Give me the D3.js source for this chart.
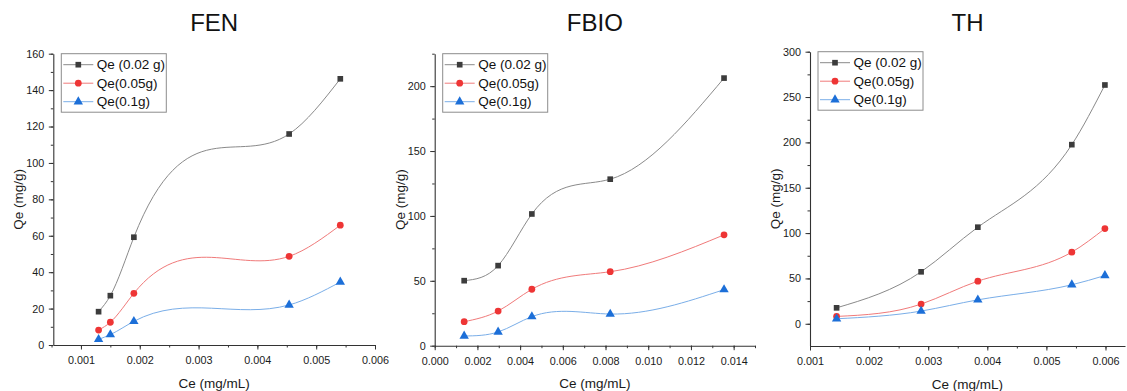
<!DOCTYPE html>
<html>
<head>
<meta charset="utf-8">
<script src="https://cdn.jsdelivr.net/npm/d3@7"></script>
<style>
  body { margin: 0; background: #fff; }
  svg { display: block; font-family: "Liberation Sans", Arial, sans-serif; }
</style>
</head>
<body>
<script>
// Series labels
const seriesNames = ['Qe (0.02 g)', 'Qe(0.05g)', 'Qe(0.1g)'];

// FEN
const fenCe = [0.00130, 0.00150, 0.00190, 0.00454, 0.00541];
const fenQe002 = [18.3, 27.1, 59.2, 115.9, 146.2];
const fenQe005 = [8.2, 12.5, 28.4, 48.7, 65.8];
const fenQe01 = [3.1, 5.7, 13.0, 22.0, 34.6];

// FBIO
const fbioCe = [0.00138, 0.00297, 0.00455, 0.00822, 0.01355];
const fbioQe002 = [50.1, 61.7, 101.5, 128.3, 206.2];
const fbioQe005 = [18.5, 26.7, 43.5, 57.0, 85.4];
const fbioQe01 = [7.5, 10.6, 22.4, 24.4, 43.2];

// TH
const thCe = [0.00145, 0.00288, 0.00384, 0.00543, 0.00599];
const thQe002 = [17.6, 57.3, 106.5, 197.5, 263.3];
const thQe005 = [8.1, 21.7, 47.0, 79.0, 105.0];
const thQe01 = [5.5, 14.0, 26.4, 43.0, 53.2];

// Tick values
const fenXTicks = [0.001, 0.002, 0.003, 0.004, 0.005, 0.006];
const fenYTicks = [0, 20, 40, 60, 80, 100, 120, 140, 160];
const fbioXTicks = [0, 0.002, 0.004, 0.006, 0.008, 0.010, 0.012, 0.014];
const fbioYTicks = [0, 50, 100, 150, 200];
const thXTicks = [0.001, 0.002, 0.003, 0.004, 0.005, 0.006];
const thYTicks = [0, 50, 100, 150, 200, 250, 300];

const W = 1127, H = 391;

const svg = d3.select('body').append('svg')
    .attr('width', W)
    .attr('height', H);

// Natural cubic spline with x as independent variable (like Origin's "Spline")
function curveSplineX(context) {
    return {
        lineStart() { this.xs = []; this.ys = []; },
        point(x, y) { this.xs.push(+x); this.ys.push(+y); },
        lineEnd() {
            const x = this.xs, y = this.ys, n = x.length;
            if (!n) return;
            context.moveTo(x[0], y[0]);
            if (n < 3) { for (let i = 1; i < n; i++) context.lineTo(x[i], y[i]); return; }
            const h = d3.range(n - 1).map(i => x[i + 1] - x[i]);
            // tridiagonal solve for second derivatives, M[0] = M[n-1] = 0
            const a = [], b = [], c = [], r = [];
            for (let i = 1; i < n - 1; i++) {
                a.push(h[i - 1]);
                b.push(2 * (h[i - 1] + h[i]));
                c.push(h[i]);
                r.push(6 * ((y[i + 1] - y[i]) / h[i] - (y[i] - y[i - 1]) / h[i - 1]));
            }
            const m = a.length;
            for (let i = 1; i < m; i++) {
                const w = a[i] / b[i - 1];
                b[i] -= w * c[i - 1];
                r[i] -= w * r[i - 1];
            }
            const inner = new Array(m);
            inner[m - 1] = r[m - 1] / b[m - 1];
            for (let i = m - 2; i >= 0; i--) inner[i] = (r[i] - c[i] * inner[i + 1]) / b[i];
            const M = [0, ...inner, 0];
            for (let i = 0; i < n - 1; i++) {
                const s = (y[i + 1] - y[i]) / h[i];
                const m0 = s - h[i] * (2 * M[i] + M[i + 1]) / 6;
                const m1 = s + h[i] * (M[i] + 2 * M[i + 1]) / 6;
                context.bezierCurveTo(
                    x[i] + h[i] / 3, y[i] + m0 * h[i] / 3,
                    x[i + 1] - h[i] / 3, y[i + 1] - m1 * h[i] / 3,
                    x[i + 1], y[i + 1]);
            }
        },
        areaStart() {}, areaEnd() {}
    };
}

const lineColors = ['#8a8a8a', '#f07a7a', '#7aaee8'];
const markColors = ['#3c3c3c', '#ee3535', '#1c6fd8'];

const panels = [
    { title: 'FEN', ce: fenCe, qe: [fenQe002, fenQe005, fenQe01],
      xr: [53.3, 375], yr: [345, 53.7], xd: [0.00053, 0.006], yd: [0, 160],
      xt: fenXTicks, xm: d3.range(0.0005, 0.00601, 0.0005),
      yt: fenYTicks, ym: d3.range(0, 161, 10) },
    { title: 'FBIO', ce: fbioCe, qe: [fbioQe002, fbioQe005, fbioQe01],
      xr: [434.7, 755], yr: [345.7, 53.7], xd: [0, 0.015], yd: [0, 225],
      xt: fbioXTicks, xm: d3.range(0, 0.0151, 0.001),
      yt: fbioYTicks, ym: d3.range(0, 226, 25) },
    { title: 'TH', ce: thCe, qe: [thQe002, thQe005, thQe01],
      xr: [810, 1125], yr: [346, 51.7], xd: [0.001, 0.00633], yd: [-24.5, 300],
      xt: thXTicks, xm: d3.range(0.001, 0.00634, 0.0005),
      yt: thYTicks, ym: d3.range(0, 301, 25) }
];

panels.forEach(p => {
    const g = svg.append('g');
    const x = d3.scaleLinear().domain(p.xd).range(p.xr);
    const y = d3.scaleLinear().domain(p.yd).range(p.yr);
    const cx = (p.xr[0] + p.xr[1]) / 2;
    const cy = (p.yr[0] + p.yr[1]) / 2;

    // title
    g.append('text')
        .attr('x', cx).attr('y', 31)
        .attr('text-anchor', 'middle')
        .style('font-size', '24px')
        .attr('fill', '#111')
        .text(p.title);

    // minor ticks first, then major axis on top
    g.append('g')
        .attr('transform', `translate(0, ${p.yr[0]})`)
        .call(d3.axisBottom(x).tickValues(p.xm).tickSize(2.5).tickFormat(''))
        .call(a => a.select('.domain').remove())
        .selectAll('line').attr('stroke', '#333');
    g.append('g')
        .attr('transform', `translate(${p.xr[0]}, 0)`)
        .call(d3.axisLeft(y).tickValues(p.ym).tickSize(2.5).tickFormat(''))
        .call(a => a.select('.domain').remove())
        .selectAll('line').attr('stroke', '#333');

    const xAxis = g.append('g')
        .attr('transform', `translate(0, ${p.yr[0]})`)
        .call(d3.axisBottom(x).tickValues(p.xt).tickSizeInner(4.5).tickSizeOuter(0)
            .tickPadding(7).tickFormat(d3.format('.3f')));
    const yAxis = g.append('g')
        .attr('transform', `translate(${p.xr[0]}, 0)`)
        .call(d3.axisLeft(y).tickValues(p.yt).tickSizeInner(4.5).tickSizeOuter(0)
            .tickPadding(4.5).tickFormat(d3.format('d')));
    [xAxis, yAxis].forEach(a => {
        a.select('.domain').attr('stroke', '#333').attr('stroke-width', 1.1);
        a.selectAll('line').attr('stroke', '#333');
        a.selectAll('text')
            .style('font-size', '10.8px')
            .style('font-family', '"Liberation Sans", Arial, sans-serif')
            .attr('fill', '#1a1a1a');
    });

    // axis titles
    g.append('text')
        .attr('x', cx).attr('y', p.yr[0] + 42.5)
        .attr('text-anchor', 'middle')
        .style('font-size', '13.5px')
        .attr('fill', '#1a1a1a')
        .text('Ce (mg/mL)');
    g.append('text')
        .attr('transform', `translate(${p.xr[0] - 30}, ${cy}) rotate(-90)`)
        .attr('text-anchor', 'middle')
        .style('font-size', '13.5px')
        .attr('fill', '#1a1a1a')
        .text('Qe (mg/g)');

    // lines + markers
    const line = d3.line()
        .x(d => x(d[0]))
        .y(d => y(d[1]))
        .curve(curveSplineX);

    p.qe.forEach((vals, si) => {
        const pts = p.ce.map((c, i) => [c, vals[i]]);
        g.append('path')
            .datum(pts)
            .attr('fill', 'none')
            .attr('stroke', lineColors[si])
            .attr('stroke-width', 1)
            .attr('d', line);
        drawMarkers(g, pts.map(d => [x(d[0]), y(d[1])]), si);
    });

    // legend
    const lx = p.xr[0] + 8, ly = p.yr[1];
    const leg = g.append('g').attr('transform', `translate(${lx}, ${ly})`);
    leg.append('rect')
        .attr('width', 105).attr('height', 58.5)
        .attr('fill', '#fff')
        .attr('stroke', '#8c8c8c')
        .attr('stroke-width', 1);
    seriesNames.forEach((name, si) => {
        const ry = 11 + si * 18.5;
        leg.append('line')
            .attr('x1', 2).attr('x2', 32)
            .attr('y1', ry).attr('y2', ry)
            .attr('stroke', lineColors[si]).attr('stroke-width', 1);
        drawMarkers(leg, [[17, ry]], si);
        leg.append('text')
            .attr('x', 35.5).attr('y', ry + 4.8)
            .style('font-size', '13.5px')
            .attr('fill', '#111')
            .text(name);
    });
});

function drawMarkers(parent, pts, si) {
    const sym = [d3.symbolSquare, d3.symbolCircle, d3.symbolTriangle][si];
    const size = [32, 36, 38][si];
    parent.selectAll(null)
        .data(pts)
        .enter()
        .append('path')
        .attr('transform', d => `translate(${d[0]}, ${d[1]})`)
        .attr('d', d3.symbol().type(sym).size(size))
        .attr('fill', markColors[si]);
}
</script>
</body>
</html>
